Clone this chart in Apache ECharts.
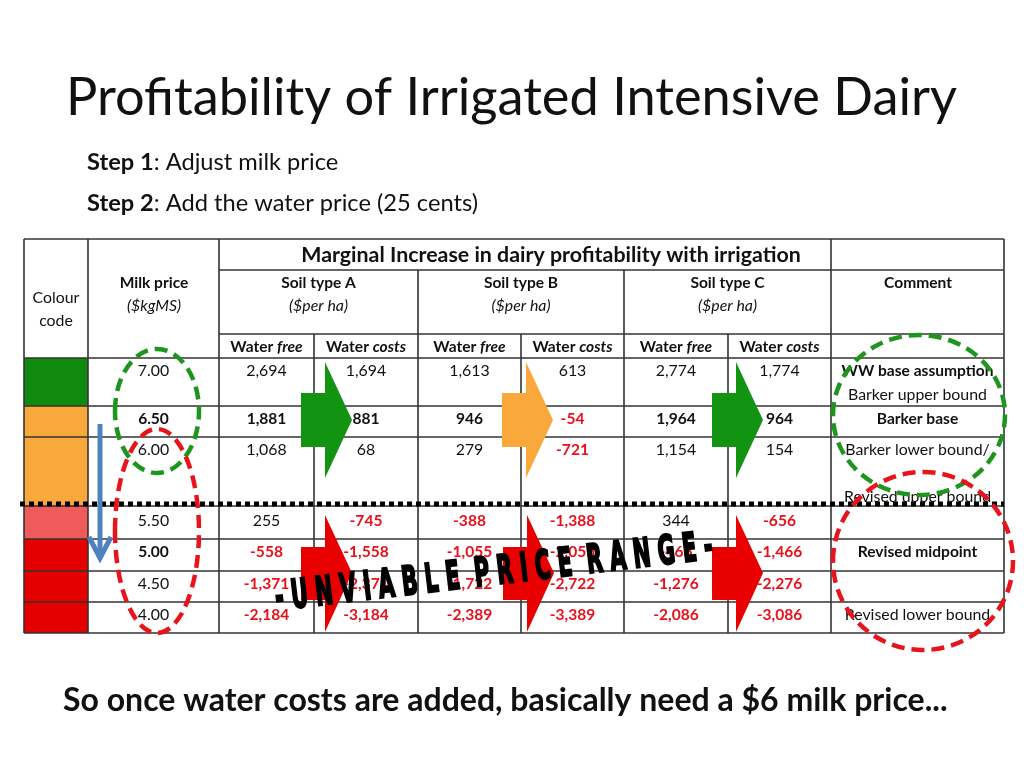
<!DOCTYPE html>
<html><head><meta charset="utf-8">
<script src="https://cdn.jsdelivr.net/npm/echarts@6/dist/echarts.min.js"></script>
<style>html,body{margin:0;padding:0;background:#fff}#c{width:1024px;height:768px}</style>
</head><body><div id="c"></div>
<script>
// ---------- DATA ----------
const milkPrices = ['7.00', '6.50', '6.00', '5.50', '5.00', '4.50', '4.00'];
const colourCodes = ['green', 'orange', 'orange', 'lightred', 'red', 'red', 'red'];
const soilAFree  = [2694, 1881, 1068, 255, -558, -1371, -2184];
const soilACosts = [1694, 881, 68, -745, -1558, -2371, -3184];
const soilBFree  = [1613, 946, 279, -388, -1055, -1722, -2389];
const soilBCosts = [613, -54, -721, -1388, -2055, -2722, -3389];
const soilCFree  = [2774, 1964, 1154, 344, -466, -1276, -2086];
const soilCCosts = [1774, 964, 154, -656, -1466, -2276, -3086];
const boldRows = [1, 4];
const comments = ['WW base assumption', 'Barker upper bound', 'Barker base', 'Barker lower bound/', 'Revised upper bound', 'Revised midpoint', 'Revised lower bound'];
const commentBold = [true, false, true, false, false, true, false];
const commentRow = [0, 0, 1, 2, 2, 4, 6];

// ---------- LAYOUT ----------
const FONT = 'Lato';
const W = 1024, H = 768;
const colEdges = [24, 88, 219, 314, 418, 521, 624, 728, 831, 1004];
const rowEdges = [358, 406, 437, 505, 539, 571, 602, 633];
const rowTextY = [371, 419, 450, 521, 552, 584, 615];
const commentY = [371, 395, 419, 450, 497, 552, 615];
const valueColX = [266.5, 366, 469.5, 572.5, 676, 779.5];
const milkX = 153.5, commentX = 917.5;
const palette = { green: '#0F8A0F', orange: '#F9A83B', lightred: '#EF5A5A', red: '#E50000' };
const RED_TXT = '#E8101A';

const mctx = document.createElement('canvas').getContext('2d');
function fit(text, weight, style, target) {
  mctx.font = `${style||'normal'} ${weight} 100px ${FONT}`;
  return 100 * target / mctx.measureText(text).width;
}
const tSize = fit('Barker upper bound', 'normal', '', 139);
const tBold = fit('WW base assumption', 'bold', '', 152);

function fmt(v) {
  const s = Math.abs(v).toString().replace(/\B(?=(\d{3})+(?!\d))/g, ',');
  return (v < 0 ? '-' : '') + s;
}

const chart = echarts.init(document.getElementById('c'), null, { renderer: 'canvas' });

function cellSeries(values, colIdx) {
  return {
    type: 'custom', coordinateSystem: 'cartesian2d', clip: false, z: 3,
    data: values.map((v, i) => [i, v]),
    renderItem(params, api) {
      const i = api.value(0), v = api.value(1);
      const p = api.coord([valueColX[colIdx], rowTextY[i]]);
      const neg = v < 0;
      const bold = neg || boldRows.includes(i);
      return { type: 'text', x: p[0], y: p[1], style: {
        text: fmt(v), fill: neg ? RED_TXT : '#111', align: 'center', verticalAlign: 'middle',
        fontFamily: FONT, fontSize: bold ? tBold : tSize, fontWeight: bold ? 'bold' : 'normal' } };
    }
  };
}

const series = [
  { // colour code cells
    type: 'custom', coordinateSystem: 'cartesian2d', clip: false, z: 2,
    data: colourCodes.map((c, i) => [i, 0]),
    renderItem(params, api) {
      const i = api.value(0);
      const a = api.coord([colEdges[0], rowEdges[i]]);
      const b = api.coord([colEdges[1], rowEdges[i + 1]]);
      return { type: 'rect', shape: { x: a[0], y: a[1], width: b[0] - a[0], height: b[1] - a[1] },
        style: { fill: palette[colourCodes[params.dataIndex]] } };
    }
  },
  { // milk prices
    type: 'custom', coordinateSystem: 'cartesian2d', clip: false, z: 3,
    data: milkPrices.map((m, i) => [i, parseFloat(m)]),
    renderItem(params, api) {
      const i = api.value(0);
      const p = api.coord([milkX, rowTextY[i]]);
      const bold = boldRows.includes(i);
      return { type: 'text', x: p[0], y: p[1], style: {
        text: milkPrices[params.dataIndex], fill: '#111', align: 'center', verticalAlign: 'middle',
        fontFamily: FONT, fontSize: bold ? tBold : tSize, fontWeight: bold ? 'bold' : 'normal' } };
    }
  },
  cellSeries(soilAFree, 0), cellSeries(soilACosts, 1),
  cellSeries(soilBFree, 2), cellSeries(soilBCosts, 3),
  cellSeries(soilCFree, 4), cellSeries(soilCCosts, 5),
  { // comments
    type: 'custom', coordinateSystem: 'cartesian2d', clip: false, z: 3,
    data: comments.map((c, i) => [i, commentRow[i]]),
    renderItem(params, api) {
      const i = params.dataIndex;
      const p = api.coord([commentX, commentY[i]]);
      return { type: 'text', x: p[0], y: p[1], style: {
        text: comments[i], fill: '#111', align: 'center', verticalAlign: 'middle',
        fontFamily: FONT, fontSize: commentBold[i] ? tBold : tSize, fontWeight: commentBold[i] ? 'bold' : 'normal' } };
    }
  }
];

// ---------- GRAPHICS ----------
const g = [];
const LC = '#333';
function line(x1, y1, x2, y2, extra) {
  g.push(Object.assign({ type: 'line', shape: { x1, y1, x2, y2 }, style: { stroke: LC, lineWidth: 1.6 }, z: 5 }, extra || {}));
}
function txt(x, y, text, size, weight, style, align, extra) {
  g.push(Object.assign({ type: 'text', x, y, z: 6, style: { text, fontFamily: FONT, fontSize: size, fontWeight: weight || 'normal',
    fontStyle: style || 'normal', fill: '#111', align: align || 'center', verticalAlign: 'middle' } }, extra || {}));
}
// table border & grid
line(24, 239, 1004, 239); line(24, 633, 1004, 633);
line(24, 239, 24, 633); line(1004, 239, 1004, 633);
line(88, 239, 88, 633); line(219, 239, 219, 633); line(831, 239, 831, 633);
line(219, 270, 1004, 270); line(219, 334, 1004, 334);
line(24, 358, 1004, 358);
[418, 624].forEach(x => line(x, 270, x, 633));
[314, 521, 728].forEach(x => line(x, 334, x, 633));
[406, 437, 506, 539, 571, 602].forEach(y => line(24, y, 1004, y));
// dotted line
g.push({ type: 'line', z: 7, shape: { x1: 20, y1: 504, x2: 1004, y2: 504 }, style: { stroke: '#000', lineWidth: 5, lineDash: [5, 4] } });

// title & texts
const titleText = 'Profitability of Irrigated Intensive Dairy';
txt(66, 98, titleText, fit(titleText, 'normal', '', 891), 'normal', '', 'left');
const s1 = fit('Step 1: Adjust milk price', 'normal', '', 251);
g.push({ type: 'text', x: 87, y: 162, z: 6, style: { text: '{b|Step 1}: Adjust milk price', fontFamily: FONT, fontSize: s1, fill: '#111', verticalAlign: 'middle',
  rich: { b: { fontWeight: 'bold', fontFamily: FONT, fontSize: s1 } } } });
g.push({ type: 'text', x: 87, y: 203, z: 6, style: { text: '{b|Step 2}: Add the water price (25 cents)', fontFamily: FONT, fontSize: s1, fill: '#111', verticalAlign: 'middle',
  rich: { b: { fontWeight: 'bold', fontFamily: FONT, fontSize: s1 } } } });
const bottomText = 'So once water costs are added, basically need a $6 milk price...';
txt(63, 701, bottomText, fit(bottomText, 'bold', '', 885), 'bold', '', 'left');

const hdr = 'Marginal Increase in dairy profitability with irrigation';
txt(551, 255, hdr, fit(hdr, 'bold', '', 500), 'bold');
txt(56, 298, 'Colour', tSize); txt(56, 321, 'code', tSize);
txt(154, 283, 'Milk price', tBold, 'bold'); txt(154, 306, '($kgMS)', tSize, 'normal', 'italic');
[['Soil type A', 318.5], ['Soil type B', 521], ['Soil type C', 727.5]].forEach(([t, x]) => {
  txt(x, 283, t, tBold, 'bold'); txt(x, 306, '($per ha)', tSize, 'normal', 'italic');
});
txt(918, 283, 'Comment', tBold, 'bold');
valueColX.forEach((x, i) => {
  const word = i % 2 === 0 ? 'free' : 'costs';
  g.push({ type: 'text', x, y: 347, z: 6, style: { text: '{b|Water }{bi|' + word + '}', align: 'center', verticalAlign: 'middle', fill: '#111',
    rich: { b: { fontFamily: FONT, fontWeight: 'bold', fontSize: tBold }, bi: { fontFamily: FONT, fontWeight: 'bold', fontStyle: 'italic', fontSize: tBold } } } });
});

// block arrows
function blockArrow(x0, yTop, bodyTop, bodyBot, yBot, tipY, color) {
  g.push({ type: 'polygon', z: 8, shape: { points: [[x0, bodyTop], [x0 + 24, bodyTop], [x0 + 24, yTop], [x0 + 51, tipY], [x0 + 24, yBot], [x0 + 24, bodyBot], [x0, bodyBot]] },
    style: { fill: color } });
}
blockArrow(301, 362, 393, 447, 478, 420, '#129412');
blockArrow(502, 362, 393, 447, 478, 420, '#F9A83B');
blockArrow(712, 362, 393, 447, 478, 420, '#129412');
blockArrow(301, 515, 547, 600, 632, 573, '#E80000');
blockArrow(503, 515, 547, 600, 632, 573, '#E80000');
blockArrow(712, 515, 547, 600, 632, 573, '#E80000');

// unviable text
const uv = '- U N V I A B L E  P R I C E  R A N G E -';
g.push({ type: 'text', z: 12, x: 494, y: 574, rotation: 0.118, originX: 0, originY: 0, scaleY: 1.9,
  style: { text: uv, fontFamily: 'DejaVu Sans', fontWeight: 'bold', fontSize: 21, fill: '#000', stroke: '#000', lineWidth: 1.2,
    align: 'center', verticalAlign: 'middle' } });

// dashed ellipses
function ell(cx, cy, rx, ry, color) {
  g.push({ type: 'ellipse', z: 10, shape: { cx, cy, rx, ry }, style: { fill: 'none', stroke: color, lineWidth: 4.5, lineDash: [13, 7] } });
}
ell(157, 411, 42, 62, '#1E961E');
ell(157, 531, 42, 102, '#E8141B');
ell(919, 415, 86, 80, '#1E961E');
ell(923, 561, 90, 89, '#E8141B');

// blue arrow
g.push({ type: 'line', z: 9, shape: { x1: 100, y1: 424, x2: 100, y2: 556 }, style: { stroke: '#4F81BD', lineWidth: 5 } });
g.push({ type: 'polyline', z: 9, shape: { points: [[89, 537], [100, 558], [111, 537]] }, style: { stroke: '#4F81BD', lineWidth: 5, fill: 'none' } });

chart.setOption({
  animation: false,
  backgroundColor: '#fff',
  grid: { left: 0, right: 0, top: 0, bottom: 0 },
  xAxis: { type: 'value', min: 0, max: W, show: false },
  yAxis: { type: 'value', min: 0, max: H, inverse: true, show: false },
  series: series,
  graphic: g
});
</script></body></html>
